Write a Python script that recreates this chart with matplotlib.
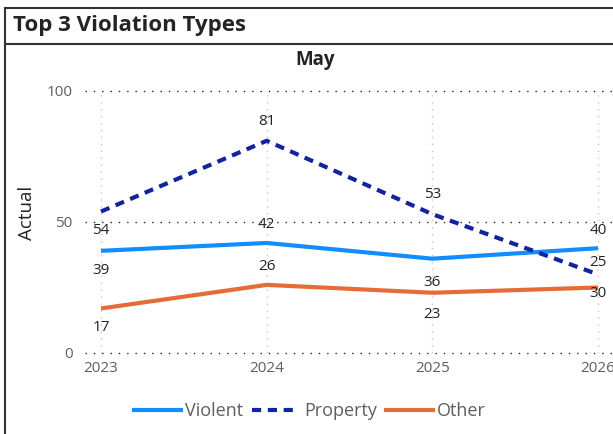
import matplotlib
matplotlib.use("Agg")
import matplotlib.pyplot as plt
from matplotlib.lines import Line2D

plt.rcParams["font.family"] = ["Open Sans", "DejaVu Sans"]

years = ["2023", "2024", "2025", "2026"]
violent = [39, 42, 36, 40]
property_ = [54, 81, 53, 30]
other = [17, 26, 23, 25]
y_ticks = [0, 50, 100]

# label offsets in points (Power BI style placement)
violent_off = [-14, 13, -17, 13]
property_off = [-14, 14, 14, -14]
other_off = [-14, 13, -16, 18]

c_violent = "#118DFF"
c_property = "#12239E"
c_other = "#E66C37"

W, H = 613, 434
fig = plt.figure(figsize=(W / 100, H / 100), dpi=100)

# frame: title box + left border
fig.add_artist(Line2D([5 / W, 5 / W], [0, 1 - 8 / H], color="#333333", lw=1.5))
fig.add_artist(Line2D([5 / W, 1], [1 - 8 / H, 1 - 8 / H], color="#333333", lw=1.5))
fig.add_artist(Line2D([5 / W, 1], [1 - 44 / H, 1 - 44 / H], color="#333333", lw=1.5))
fig.text(13 / W, 1 - 26 / H, "Top 3 Violation Types", fontsize=16, fontweight="bold",
         color="#252423", va="center", ha="left")
fig.text(315 / W, 1 - 60 / H, "May", fontsize=13.5, fontweight="bold",
         color="#252423", va="center", ha="center")
fig.text(27 / W, 1 - 213 / H, "Actual", fontsize=13.5, color="#252423",
         rotation=90, va="center", ha="center")

x0 = 85
ax = fig.add_axes([x0 / W, (H - 353) / H, (W - x0) / W, 262 / H])
xs = list(range(len(years)))
ax.plot(xs, violent, color=c_violent, lw=3, solid_capstyle="butt", zorder=3)
ax.plot(xs, property_, color=c_property, lw=3, dashes=(2.2, 1.6), zorder=3)
ax.plot(xs, other, color=c_other, lw=3, solid_capstyle="butt", zorder=3)

for vals, offs in [(violent, violent_off), (property_, property_off), (other, other_off)]:
    for i, (v, o) in enumerate(zip(vals, offs)):
        ax.annotate(str(v), (i, v), xytext=(0, o), textcoords="offset points",
                    ha="center", va="center", fontsize=11, color="#252423", zorder=4)

ax.set_xlim(-16 / 165.7, 3 + 15 / 165.7)
ax.set_ylim(0, 100)
ax.set_xticks(xs)
ax.set_xticklabels(years)
ax.set_yticks(y_ticks)
ax.tick_params(length=0, labelsize=11, labelcolor="#605E5C")
ax.tick_params(axis="x", pad=6)
ax.tick_params(axis="y", pad=9)
for s in ax.spines.values():
    s.set_visible(False)
for yv in y_ticks:
    ax.axhline(yv, color="#222222", lw=1, ls=(0, (1, 5)), zorder=1, clip_on=False)
for xv in xs:
    ax.axvline(xv, color="#C8C6C4", lw=1, ls=(0, (1, 4)), zorder=0)

handles = [
    Line2D([], [], color=c_violent, lw=3),
    Line2D([], [], color=c_property, lw=3, dashes=(2.2, 1.6)),
    Line2D([], [], color=c_other, lw=3),
]
fig.legend(handles, ["Violent", "Property", "Other"], loc="center",
           bbox_to_anchor=(310 / W, 1 - 411 / H), ncol=3, frameon=False,
           fontsize=13, handlelength=2.6, handletextpad=0.25, columnspacing=0.5,
           labelcolor="#605E5C")

fig.savefig("out.png", dpi=100)
